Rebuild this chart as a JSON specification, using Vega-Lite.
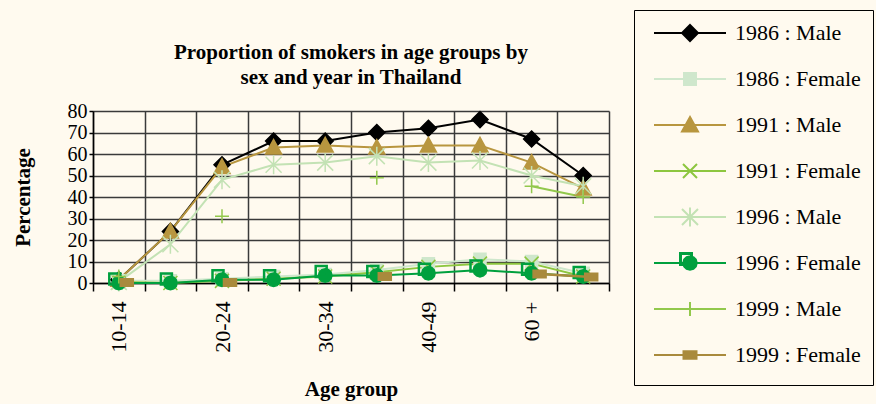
{
  "$schema": "https://vega.github.io/schema/vega-lite/v6.json",
  "width": 516,
  "height": 172,
  "autosize": "none",
  "padding": {"left": 93, "top": 111, "right": 267, "bottom": 121},
  "background": "#fffaef",
  "title": {
    "text": ["Proportion of smokers in age groups by", "sex and year in Thailand"],
    "font": "Liberation Serif",
    "fontSize": 21,
    "fontWeight": "bold",
    "color": "#000000",
    "anchor": "middle",
    "offset": -78,
    "lineHeight": 25
  },
  "config": {
    "view": {"stroke": null},
    "font": "Liberation Serif"
  },
  "data": {
    "values": [
      {"age": "10-14", "series": "1986 : Male", "value": 1.5},
      {"age": "15-19", "series": "1986 : Male", "value": 24},
      {"age": "20-24", "series": "1986 : Male", "value": 55},
      {"age": "25-29", "series": "1986 : Male", "value": 66},
      {"age": "30-34", "series": "1986 : Male", "value": 66},
      {"age": "35-39", "series": "1986 : Male", "value": 70},
      {"age": "40-49", "series": "1986 : Male", "value": 72},
      {"age": "50-59", "series": "1986 : Male", "value": 76},
      {"age": "60 +", "series": "1986 : Male", "value": 67},
      {"age": "Total", "series": "1986 : Male", "value": 50},
      {"age": "10-14", "series": "1986 : Female", "value": 1},
      {"age": "15-19", "series": "1986 : Female", "value": 1},
      {"age": "20-24", "series": "1986 : Female", "value": 2},
      {"age": "25-29", "series": "1986 : Female", "value": 3},
      {"age": "30-34", "series": "1986 : Female", "value": 4},
      {"age": "35-39", "series": "1986 : Female", "value": 6},
      {"age": "40-49", "series": "1986 : Female", "value": 9},
      {"age": "50-59", "series": "1986 : Female", "value": 11},
      {"age": "60 +", "series": "1986 : Female", "value": 10},
      {"age": "Total", "series": "1986 : Female", "value": 4.5},
      {"age": "10-14", "series": "1991 : Male", "value": 1.5},
      {"age": "15-19", "series": "1991 : Male", "value": 24},
      {"age": "20-24", "series": "1991 : Male", "value": 54},
      {"age": "25-29", "series": "1991 : Male", "value": 63},
      {"age": "30-34", "series": "1991 : Male", "value": 64},
      {"age": "35-39", "series": "1991 : Male", "value": 63},
      {"age": "40-49", "series": "1991 : Male", "value": 64},
      {"age": "50-59", "series": "1991 : Male", "value": 64},
      {"age": "60 +", "series": "1991 : Male", "value": 56},
      {"age": "Total", "series": "1991 : Male", "value": 44},
      {"age": "10-14", "series": "1991 : Female", "value": 0.5},
      {"age": "15-19", "series": "1991 : Female", "value": 0},
      {"age": "20-24", "series": "1991 : Female", "value": 1},
      {"age": "25-29", "series": "1991 : Female", "value": 2},
      {"age": "30-34", "series": "1991 : Female", "value": 3},
      {"age": "35-39", "series": "1991 : Female", "value": 5},
      {"age": "40-49", "series": "1991 : Female", "value": 7.5},
      {"age": "50-59", "series": "1991 : Female", "value": 9},
      {"age": "60 +", "series": "1991 : Female", "value": 9},
      {"age": "Total", "series": "1991 : Female", "value": 3},
      {"age": "10-14", "series": "1996 : Male", "value": 0.5},
      {"age": "15-19", "series": "1996 : Male", "value": 18},
      {"age": "20-24", "series": "1996 : Male", "value": 48},
      {"age": "25-29", "series": "1996 : Male", "value": 55},
      {"age": "30-34", "series": "1996 : Male", "value": 56},
      {"age": "35-39", "series": "1996 : Male", "value": 59},
      {"age": "40-49", "series": "1996 : Male", "value": 56},
      {"age": "50-59", "series": "1996 : Male", "value": 57},
      {"age": "60 +", "series": "1996 : Male", "value": 50},
      {"age": "Total", "series": "1996 : Male", "value": 45},
      {"age": "10-14", "series": "1996 : Female", "value": 0},
      {"age": "15-19", "series": "1996 : Female", "value": 0},
      {"age": "20-24", "series": "1996 : Female", "value": 1.5},
      {"age": "25-29", "series": "1996 : Female", "value": 1.5},
      {"age": "30-34", "series": "1996 : Female", "value": 3.5},
      {"age": "35-39", "series": "1996 : Female", "value": 3.5},
      {"age": "40-49", "series": "1996 : Female", "value": 4.5},
      {"age": "50-59", "series": "1996 : Female", "value": 6},
      {"age": "60 +", "series": "1996 : Female", "value": 4.5},
      {"age": "Total", "series": "1996 : Female", "value": 3},
      {"age": "10-14", "series": "1999 : Male", "value": 3},
      {"age": "15-19", "series": "1999 : Male", "value": null},
      {"age": "20-24", "series": "1999 : Male", "value": 31},
      {"age": "25-29", "series": "1999 : Male", "value": null},
      {"age": "30-34", "series": "1999 : Male", "value": null},
      {"age": "35-39", "series": "1999 : Male", "value": 49},
      {"age": "40-49", "series": "1999 : Male", "value": null},
      {"age": "50-59", "series": "1999 : Male", "value": null},
      {"age": "60 +", "series": "1999 : Male", "value": 45},
      {"age": "Total", "series": "1999 : Male", "value": 40},
      {"age": "10-14", "series": "1999 : Female", "value": 0.2},
      {"age": "15-19", "series": "1999 : Female", "value": null},
      {"age": "20-24", "series": "1999 : Female", "value": 0.2},
      {"age": "25-29", "series": "1999 : Female", "value": null},
      {"age": "30-34", "series": "1999 : Female", "value": null},
      {"age": "35-39", "series": "1999 : Female", "value": 3},
      {"age": "40-49", "series": "1999 : Female", "value": null},
      {"age": "50-59", "series": "1999 : Female", "value": null},
      {"age": "60 +", "series": "1999 : Female", "value": 4.2},
      {"age": "Total", "series": "1999 : Female", "value": 2.8}
    ]
  },
  "encoding": {
    "x": {
      "field": "age",
      "type": "ordinal",
      "sort": null,
      "bandPosition": 0.5,
      "scale": {
        "type": "band",
        "domain": ["10-14", "15-19", "20-24", "25-29", "30-34", "35-39", "40-49", "50-59", "60 +", "Total"],
        "paddingInner": 0,
        "paddingOuter": 0
      },
      "axis": {
        "title": "Age group",
        "titleFont": "Liberation Serif",
        "titleFontSize": 21,
        "titleFontWeight": "bold",
        "titleColor": "#000000",
        "titlePadding": 26,
        "labelAngle": 270,
        "labelFont": "Liberation Serif",
        "labelFontSize": 22,
        "labelColor": "#000000",
        "labelPadding": 10,
        "labelOverlap": false,
        "labelExpr": "indexof(['10-14','20-24','30-34','40-49','60 +'], datum.value) >= 0 ? datum.label : ''",
        "tickBand": "extent",
        "tickSize": 8,
        "tickColor": "#000000",
        "tickWidth": 1.5,
        "domainColor": "#000000",
        "domainWidth": 1.5,
        "grid": true,
        "gridColor": "#3a3a3a",
        "gridWidth": 1.5,
        "gridOpacity": 1
      }
    },
    "y": {
      "field": "value",
      "type": "quantitative",
      "scale": {"domain": [0, 80], "nice": false, "zero": true},
      "axis": {
        "title": "Percentage",
        "titleFont": "Liberation Serif",
        "titleFontSize": 21,
        "titleFontWeight": "bold",
        "titleColor": "#000000",
        "titlePadding": 34,
        "values": [0, 10, 20, 30, 40, 50, 60, 70, 80],
        "labelFont": "Liberation Serif",
        "labelFontSize": 20,
        "labelColor": "#000000",
        "labelPadding": 2,
        "tickSize": 4,
        "tickColor": "#000000",
        "tickWidth": 1.5,
        "domainColor": "#000000",
        "domainWidth": 1.5,
        "grid": true,
        "gridColor": "#3a3a3a",
        "gridWidth": 1.5,
        "gridOpacity": 1
      }
    },
    "stroke": {
      "field": "series",
      "type": "nominal",
      "scale": {
        "domain": ["1986 : Male", "1986 : Female", "1991 : Male", "1991 : Female", "1996 : Male", "1996 : Female", "1999 : Male", "1999 : Female"],
        "range": ["#000000", "#cfe7cc", "#b8963f", "#8dc63f", "#c3e2b4", "#00a03e", "#92c84c", "#a98a3c"]
      },
      "legend": {
        "title": null,
        "orient": "none",
        "legendX": 541,
        "legendY": -101,
        "strokeColor": "#000000",
        "fillColor": "#fffaef",
        "padding": 12,
        "labelFont": "Liberation Serif",
        "labelFontSize": 22,
        "labelColor": "#000000",
        "labelLimit": 400,
        "symbolSize": 100,
        "symbolStrokeWidth": 2,
        "symbolOffset": 33,
        "labelOffset": 34,
        "rowPadding": 10,
        "encode": {
          "symbols": {
            "update": {
              "shape": {"signal": "scale('shape', datum.value) + 'M-7.2,0H7.2M0,-2.8L0,-2.8M0,2.8L0,2.8'"},
              "fill": {"signal": "scale('fill', datum.value)"},
              "opacity": {"value": 1}
            }
          }
        }
      }
    }
  },
  "layer": [
    {
      "transform": [{"filter": "datum.series != '1999 : Female'"}],
      "mark": {"type": "line", "strokeWidth": 2, "invalid": "break-paths-filter-domains"}
    },
    {
      "transform": [{"filter": "datum.series != '1999 : Female'"}],
      "mark": {"type": "point", "size": 100, "strokeWidth": 1.5, "opacity": 1},
      "encoding": {
        "shape": {
          "field": "series",
          "type": "nominal",
          "legend": null,
          "scale": {
            "domain": ["1986 : Female", "1986 : Male", "1991 : Female", "1991 : Male", "1996 : Female", "1996 : Male", "1999 : Female", "1999 : Male"],
            "range": [
              "M-1.2,-1.2H1.2V1.2H-1.2Z",
              "M0,-1.6L1.6,0L0,1.6L-1.6,0Z",
              "M-1.4,-1.4L1.4,1.4M-1.4,1.4L1.4,-1.4",
              "M0,-1.6L1.6,1.3L-1.6,1.3Z",
              "M-2.0,-2.0H0.4V0.4H-2.0ZM-1.8,-1.8V0.2H0.2V-1.8ZM1.35,0L1.17,0.68L0.68,1.17L0,1.35L-0.68,1.17L-1.17,0.68L-1.35,0L-1.17,-0.68L-0.68,-1.17L0,-1.35L0.68,-1.17L1.17,-0.68Z",
              "M-1.6,-1.6L1.6,1.6M-1.6,1.6L1.6,-1.6M0,-1.9V1.9",
              "M-1.3,-0.75H1.3V0.75H-1.3Z",
              "M-1.4,0H1.4M0,-1.4V1.4"
            ]
          }
        },
        "fill": {
          "field": "series",
          "type": "nominal",
          "legend": null,
          "scale": {
            "domain": ["1986 : Female", "1986 : Male", "1991 : Female", "1991 : Male", "1996 : Female", "1996 : Male", "1999 : Female", "1999 : Male"],
            "range": ["#cfe7cc", "#000000", "transparent", "#b8963f", "#00a03e", "transparent", "#a98a3c", "transparent"]
          }
        }
      }
    },
    {
      "transform": [{"filter": "datum.series == '1999 : Female'"}],
      "mark": {"type": "line", "strokeWidth": 2.5, "xOffset": 8, "invalid": "break-paths-filter-domains"}
    },
    {
      "transform": [{"filter": "datum.series == '1999 : Female'"}],
      "mark": {"type": "point", "size": 100, "strokeWidth": 1.5, "opacity": 1, "xOffset": 8},
      "encoding": {
        "shape": {"field": "series", "type": "nominal", "legend": null},
        "fill": {"field": "series", "type": "nominal", "legend": null}
      }
    }
  ]
}
